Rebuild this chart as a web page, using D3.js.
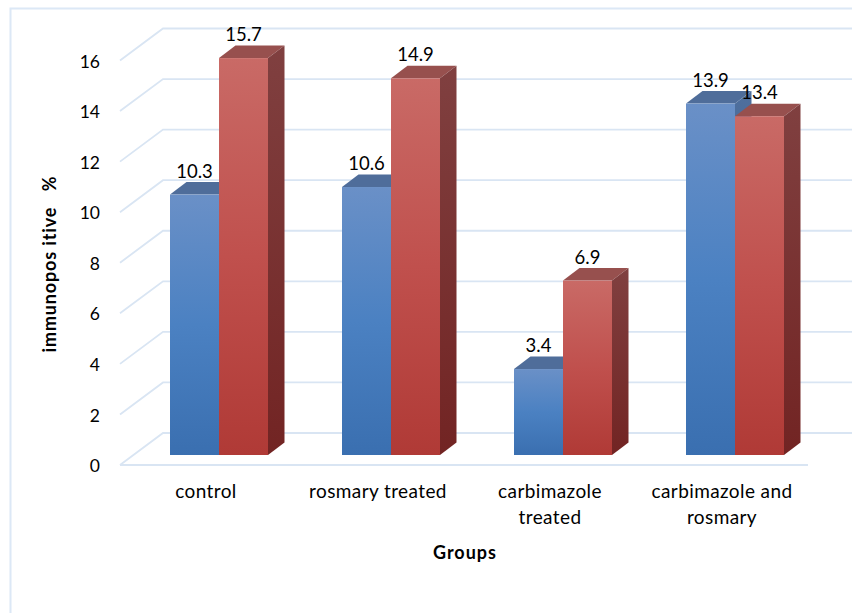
<!DOCTYPE html>
<html>
<head>
<meta charset="utf-8">
<script src="https://cdn.jsdelivr.net/npm/d3@7"></script>
<style>
  html, body { margin: 0; padding: 0; background: #fff; }
  text { font-family: Lato, "Open Sans", sans-serif; fill: #000; white-space: pre; }
</style>
</head>
<body>
<div id="chart"></div>
<script>
const categories = ['control', 'rosmary treated', 'carbimazole treated', 'carbimazole and rosmary'];
const categoryLines = [['control'], ['rosmary treated'], ['carbimazole', 'treated'], ['carbimazole and', 'rosmary']];
const seriesA = [10.3, 10.6, 3.4, 13.9];
const seriesB = [15.7, 14.9, 6.9, 13.4];
const yTicks = [0, 2, 4, 6, 8, 10, 12, 14, 16];

const width = 852, height = 613;
const svg = d3.select('#chart').append('svg')
  .attr('width', width)
  .attr('height', height)
  .style('display', 'block');

// Chart frame
svg.append('path')
  .attr('d', 'M10.5,613V8.5H852')
  .attr('fill', 'none')
  .attr('stroke', '#dce8f6')
  .attr('stroke-width', 2);

// Scales for the front plane of the 3D box
const x = d3.scaleBand().domain(categories).range([120, 808]);
const y = d3.scaleLinear().domain([0, 16]).range([465, 60.5]);
const backDx = 43, backDy = -32;
const barDx = 13.5, barDy = -10;
const sideDx = 16.5, sideDy = -12.5;
const barW = 49;

const defs = svg.append('defs');
function gradient(id, stops) {
  const g = defs.append('linearGradient').attr('id', id)
    .attr('x1', 0).attr('y1', 0).attr('x2', 0).attr('y2', 1);
  stops.forEach((c, i) => g.append('stop').attr('offset', i / (stops.length - 1)).attr('stop-color', c));
}
gradient('blueFront', ['#6a90c7', '#4b81c2', '#3a6fb0']);
gradient('redFront', ['#c96a66', '#c0504d', '#b03a36']);
gradient('blueSide', ['#4f6f9d', '#2f5a8e']);
gradient('redSide', ['#804040', '#722423']);

// Gridlines: slanted wall segment then back wall line
const gridColor = '#d9e5f3';
const grid = svg.append('g');
yTicks.forEach(t => {
  grid.append('path')
    .attr('d', `M120,${y(t)}L${120 + backDx},${y(t) + backDy}H852`)
    .attr('fill', 'none')
    .attr('stroke', gridColor)
    .attr('stroke-width', 1.8);
});
// Floor front edge
grid.append('line')
  .attr('x1', 120).attr('x2', 808)
  .attr('y1', y(0)).attr('y2', y(0))
  .attr('stroke', gridColor)
  .attr('stroke-width', 2.2);

// Y axis labels
const yAxis = svg.append('g')
  .attr('transform', 'translate(120,1)')
  .call(d3.axisLeft(y).tickValues(yTicks).tickSize(0).tickPadding(20));
yAxis.select('.domain').remove();
yAxis.selectAll('text')
  .attr('font-size', 17.5)
  .style('font-family', 'Lato, sans-serif');

// Category labels, some wrapped on two lines
const catLabels = svg.append('g').selectAll('text')
  .data(categories)
  .enter()
  .append('text')
  .attr('text-anchor', 'middle')
  .attr('font-size', 19)
  .attr('letter-spacing', 0.4);
catLabels.each(function(d, i) {
  categoryLines[i].forEach((line, j) => {
    d3.select(this).append('tspan')
      .attr('x', x(d) + x.bandwidth() / 2)
      .attr('y', 498 + j * 26)
      .text(line);
  });
});

// One 3D bar: top, side, front
function drawBar(parent, cat, value, offset, prefix, topColor) {
  const left = x(cat) + 36.5 + barDx + offset;
  const right = left + barW;
  const top = y(value) + barDy;
  const base = y(0) + barDy;
  parent.append('polygon')
    .attr('points', [[left, top], [left + sideDx, top + sideDy], [right + sideDx, top + sideDy], [right, top]].join(' '))
    .attr('fill', topColor);
  parent.append('polygon')
    .attr('points', [[right, top], [right + sideDx, top + sideDy], [right + sideDx, base + sideDy], [right, base]].join(' '))
    .attr('fill', `url(#${prefix}Side)`);
  parent.append('rect')
    .attr('x', left)
    .attr('y', top)
    .attr('width', barW)
    .attr('height', base - top)
    .attr('fill', `url(#${prefix}Front)`);
}

const bars = svg.append('g');
categories.forEach((c, i) => {
  drawBar(bars, c, seriesA[i], 0, 'blue', '#4f6d9a');
  drawBar(bars, c, seriesB[i], barW, 'red', '#97504e');
});

// Value labels above bars
function drawLabels(values, offset) {
  svg.append('g').selectAll('text')
    .data(values)
    .enter()
    .append('text')
    .attr('text-anchor', 'middle')
    .attr('font-size', 18.5)
    .attr('x', (d, i) => x(categories[i]) + 36.5 + barDx + offset + barW / 2)
    .attr('y', d => y(d) + barDy - 17)
    .text(d => d);
}
drawLabels(seriesA, 0);
drawLabels(seriesB, barW);

// Axis titles
svg.append('text')
  .attr('text-anchor', 'middle')
  .attr('x', 465)
  .attr('y', 559)
  .attr('font-size', 18)
  .attr('font-weight', 'bold')
  .attr('letter-spacing', 1)
  .text('Groups');

svg.append('text')
  .attr('text-anchor', 'middle')
  .attr('transform', 'translate(56,264) rotate(-90)')
  .attr('font-size', 18)
  .attr('font-weight', 'bold')
  .attr('letter-spacing', 0.85)
  .text('immunopos itive   %');
</script>
</body>
</html>
